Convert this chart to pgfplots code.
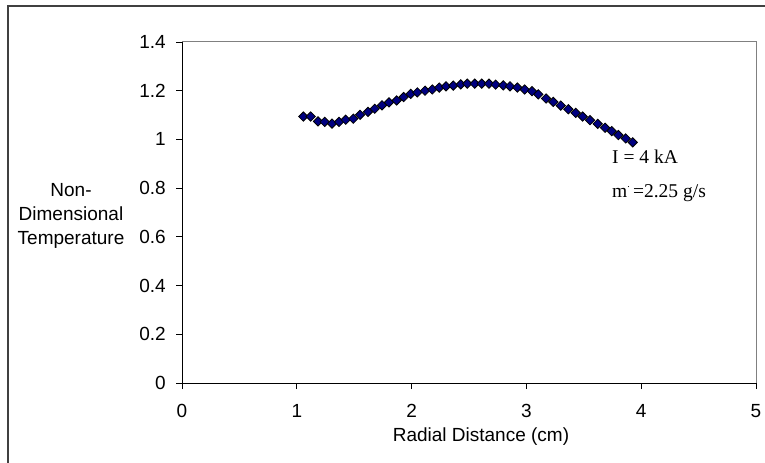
\documentclass[border=0pt]{standalone}
\usepackage{pgfplots}
\pgfplotsset{compat=1.18}
\usepackage{fontspec}
\setmainfont{Liberation Sans}
\newfontfamily\timesfont{Liberation Serif}
\definecolor{marknavy}{RGB}{0,0,128}
\definecolor{boxgray}{RGB}{128,128,128}

\pgfplotstableread{
x y
1.057 1.094
1.121 1.094
1.185 1.074
1.243 1.072
1.307 1.065
1.368 1.072
1.426 1.081
1.492 1.085
1.551 1.101
1.620 1.113
1.679 1.126
1.742 1.140
1.803 1.152
1.870 1.160
1.931 1.174
1.992 1.187
2.050 1.193
2.117 1.200
2.180 1.205
2.241 1.213
2.300 1.218
2.363 1.221
2.428 1.226
2.485 1.229
2.550 1.229
2.611 1.229
2.674 1.229
2.732 1.225
2.799 1.222
2.857 1.218
2.921 1.213
2.985 1.205
3.049 1.198
3.104 1.185
3.171 1.168
3.234 1.154
3.299 1.139
3.365 1.124
3.429 1.109
3.490 1.094
3.554 1.079
3.621 1.064
3.685 1.048
3.743 1.034
3.801 1.018
3.865 1.004
3.926 0.988
}\tempdata

\begin{document}
\begin{tikzpicture}
\path[use as bounding box] (0,0) rectangle (765bp,463bp);
% outer chart frame (cut off at right and bottom)
\draw[line width=1.8bp, black!75] (8bp,-2bp) -- (8bp,457bp) -- (767bp,457bp);

\begin{axis}[
  at={(182bp,80bp)}, anchor=south west,
  scale only axis,
  width=574bp, height=341bp,
  xmin=0, xmax=5, ymin=0, ymax=1.4,
  xtick={0,1,2,3,4,5},
  ytick={0,0.2,0.4,0.6,0.8,1,1.2,1.4},
  axis lines*=left,
  axis line style={black, line width=0.9bp},
  tick align=outside,
  major tick length=6bp,
  tick style={black, line width=0.9bp},
  /pgf/number format/assume math mode=true,
  ticklabel style={font=\fontsize{19bp}{22bp}\selectfont, inner sep=0pt},
  xticklabel style={yshift=-15bp},
  yticklabel style={xshift=-10bp},
  clip=false,
]
\draw[boxgray, line width=1bp] (rel axis cs:0,1) -- (rel axis cs:1,1) -- (rel axis cs:1,0);
\addplot[only marks, mark=square*, mark size=3.3bp,
  mark options={rotate=45, fill=marknavy, draw=black, line width=0.8bp}]
  table[x=x, y=y] {\tempdata};
\end{axis}

% axis titles
\node[font=\fontsize{19bp}{22bp}\selectfont, inner sep=0pt] at (481bp,26bp) {Radial Distance (cm)};
\node[font=\fontsize{19bp}{24bp}\selectfont, align=center] at (71bp,247bp)
  {Non-\\Dimensional\\Temperature};

% annotation
\node[font=\timesfont\fontsize{19.5bp}{22bp}\selectfont, anchor=west, inner sep=0pt]
  at (612bp,306bp) {I = 4 kA};
\node[font=\timesfont\fontsize{19.5bp}{22bp}\selectfont, anchor=west, inner sep=0pt]
  at (612bp,270bp) {m\raisebox{0.5em}{\fontsize{10bp}{10bp}\selectfont .}\,=2.25 g/s};
\end{tikzpicture}
\end{document}
